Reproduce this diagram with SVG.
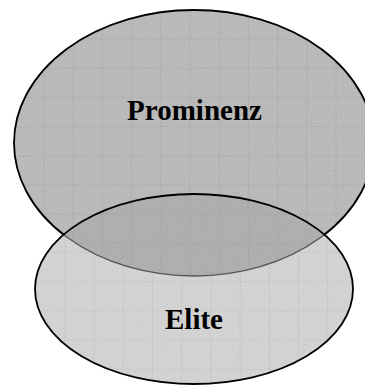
<svg xmlns="http://www.w3.org/2000/svg" width="365" height="385" viewBox="0 0 365 385">
<style>
.lbl{font-family:"Liberation Serif","Times New Roman",serif;font-weight:bold;font-size:29px;fill:#000;text-anchor:middle}
.edge{fill:none;stroke:#000;stroke-width:1.8}
</style>
<defs>
<pattern id="gridTop" patternUnits="userSpaceOnUse" x="43.5" y="38.5" width="29.2" height="29.2">
<rect width="29.2" height="29.2" fill="#ababab"/>
<path d="M0 0V29.2M0 0H29.2" stroke="#949494" stroke-width="1.2" fill="none"/>
</pattern>
<pattern id="gridBot" patternUnits="userSpaceOnUse" x="35.2" y="252" width="29.2" height="29.2">
<rect width="29.2" height="29.2" fill="#c9c9c9"/>
<path d="M0 0V29.2M0 0H29.2" stroke="#b1b1b1" stroke-width="1.2" fill="none"/>
</pattern>
<pattern id="gridOver" patternUnits="userSpaceOnUse" x="43.5" y="38.5" width="29.2" height="29.2">
<rect width="29.2" height="29.2" fill="#9e9e9e"/>
<path d="M0 0V29.2M0 0H29.2" stroke="#8f8f8f" stroke-width="1.2" fill="none"/>
</pattern>
<filter id="grainA" x="0" y="0" width="100%" height="100%">
<feTurbulence type="fractalNoise" baseFrequency="0.95" numOctaves="2" seed="4" result="n"/>
<feColorMatrix in="n" type="matrix" values="0.4 0 0 0 0.47  0.4 0 0 0 0.47  0.4 0 0 0 0.47  0 0 0 0 0.3" result="g"/>
<feComposite in="g" in2="SourceAlpha" operator="in" result="gc"/>
<feMerge><feMergeNode in="SourceGraphic"/><feMergeNode in="gc"/></feMerge>
</filter>
<filter id="grainB" x="0" y="0" width="100%" height="100%">
<feTurbulence type="fractalNoise" baseFrequency="0.95" numOctaves="2" seed="7" result="n"/>
<feColorMatrix in="n" type="matrix" values="0.4 0 0 0 0.59  0.4 0 0 0 0.59  0.4 0 0 0 0.59  0 0 0 0 0.3" result="g"/>
<feComposite in="g" in2="SourceAlpha" operator="in" result="gc"/>
<feMerge><feMergeNode in="SourceGraphic"/><feMergeNode in="gc"/></feMerge>
</filter>
<filter id="grainC" x="0" y="0" width="100%" height="100%">
<feTurbulence type="fractalNoise" baseFrequency="0.95" numOctaves="2" seed="9" result="n"/>
<feColorMatrix in="n" type="matrix" values="0.4 0 0 0 0.42  0.4 0 0 0 0.42  0.4 0 0 0 0.42  0 0 0 0 0.3" result="g"/>
<feComposite in="g" in2="SourceAlpha" operator="in" result="gc"/>
<feMerge><feMergeNode in="SourceGraphic"/><feMergeNode in="gc"/></feMerge>
</filter>
<clipPath id="clipBot"><ellipse cx="194" cy="289" rx="159" ry="95"/></clipPath>
</defs>
<g id="prominenz">
<ellipse cx="194" cy="143" rx="180" ry="133" fill="url(#gridTop)" filter="url(#grainA)"/>
<ellipse class="edge" cx="194" cy="143" rx="180" ry="133"/>
</g>
<g id="elite">
<ellipse cx="194" cy="289" rx="159" ry="95" fill="url(#gridBot)" filter="url(#grainB)"/>
<g clip-path="url(#clipBot)">
<ellipse cx="194" cy="143" rx="180" ry="133" fill="url(#gridOver)" filter="url(#grainC)"/>
<ellipse cx="194" cy="143" rx="180" ry="133" fill="none" stroke="#555" stroke-width="1.4"/>
</g>
<ellipse class="edge" cx="194" cy="289" rx="159" ry="95"/>
</g>
<g id="connectors"/>
<g id="labels">
<text class="lbl" x="194.5" y="119.5">Prominenz</text>
<text class="lbl" x="194" y="329">Elite</text>
</g>
</svg>
